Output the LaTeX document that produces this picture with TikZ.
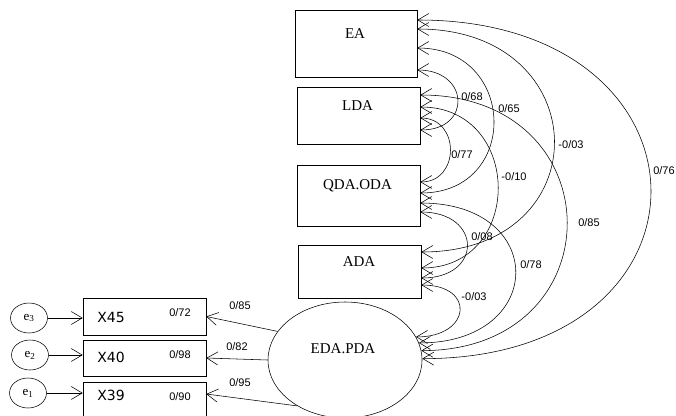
\documentclass[tikz,border=0pt]{standalone}
\usepackage{fontspec}
\setmainfont{Liberation Serif}
\newfontfamily\xfont{DejaVu Sans}
\newfontfamily\numfont{Liberation Sans}
\usetikzlibrary{shapes.geometric,arrows.meta}

\begin{document}
\begin{tikzpicture}[x=1pt,y=-1pt,line width=0.55pt,
  box/.style={draw,rectangle,inner sep=0pt},
  err/.style={draw,ellipse,inner sep=0pt,minimum width=37pt,minimum height=30pt,font=\fontsize{13}{15}\selectfont},
  nm/.style={inner sep=0pt,font=\fontsize{15}{18}\selectfont},
  xn/.style={inner sep=0pt,font=\xfont\fontsize{14}{16}\selectfont},
  num/.style={inner sep=0pt,font=\numfont\fontsize{11}{13}\selectfont},
  arr/.style={-{Straight Barb[length=11pt,width=13pt]}},
  cov/.style={{Straight Barb[length=11pt,width=13pt]}-{Straight Barb[length=11pt,width=13pt]}}]

\useasboundingbox (0,0) rectangle (676,415);

% 方框
\node[box,minimum width=122pt,minimum height=67pt] (ea) at (356,43.5) {};
\node[box,minimum width=123pt,minimum height=57pt] (lda) at (358.5,115.5) {};
\node[box,minimum width=123pt,minimum height=61pt] (qda) at (358.5,195.5) {};
\node[box,minimum width=123pt,minimum height=53pt] (ada) at (359.5,271.5) {};
\node[draw,ellipse,inner sep=0pt,minimum width=154pt,minimum height=116pt] (eda) at (345,360) {};

\node[nm] (eatxt) at (355,34) {EA};
\node[nm] (ldatxt) at (357.5,106) {LDA};
\node[nm] (qdatxt) at (357.5,186) {QDA.ODA};
\node[nm] (adatxt) at (359,262) {ADA};
\node[nm] (edatxt) at (343,349) {EDA.PDA};

% 观测变量
\node[box,minimum width=123pt,minimum height=37pt] (x45) at (144.5,316.5) {};
\node[box,minimum width=123pt,minimum height=36pt] (x40) at (144.5,358) {};
\node[box,minimum width=123pt,minimum height=38pt] (x39) at (144.5,401) {};
\node[xn] (x45txt) at (111,317) {X45};
\node[xn] (x40txt) at (111,357) {X40};
\node[xn] (x39txt) at (111,395) {X39};
\node[num] (r45) at (180,313) {0/72};
\node[num] (r40) at (180,355) {0/98};
\node[num] (r39) at (180,397) {0/90};

% 误差
\node[err] (e3) at (29,318) {e\textsubscript{3}};
\node[err] (e2) at (30,355) {e\textsubscript{2}};
\node[err] (e1) at (28,393) {e\textsubscript{1}};
\draw[arr] (e3.east) -- (e3.east -| x45.west);
\draw[arr] (e2.east) -- (e2.east -| x40.west);
\draw[arr] (e1.east) -- (e1.east -| x39.west);

% 载荷
\draw[arr] (eda.157) -- (x45.east);
\draw[arr] (eda.180) -- (x40.east);
\draw[arr] (eda.224) -- ([yshift=7pt]x39.east);
\node[num] (l45) at (240,306) {0/85};
\node[num] (l40) at (237,347) {0/82};
\node[num] (l39) at (240,383) {0/95};

% 相关
\draw[cov] ([yshift=23.5pt]ea.east) .. controls +(308,0) and +(308,0) .. (eda.1.5);
\draw[cov] ([yshift=14.5pt]ea.east) .. controls +(180,0) and +(180,0) .. ([yshift=19.5pt]ada.east);
\draw[cov] ([yshift=-4.5pt]ea.east) .. controls +(100,0) and +(100,0) .. ([yshift=2.5pt]qda.east);
\draw[cov] ([yshift=-26.5pt]ea.east) .. controls +(52,0) and +(52,0) .. ([yshift=-14.5pt]lda.east);
\draw[cov] ([yshift=20.5pt]lda.east) .. controls +(195,0) and +(195,0) .. (eda.7.5);
\draw[cov] ([yshift=8.5pt]lda.east) .. controls +(103,0) and +(103,0) .. ([yshift=3.5pt]ada.east);
\draw[cov] ([yshift=-2.5pt]lda.east) .. controls +(40,0) and +(40,0) .. ([yshift=13.5pt]qda.east);
\draw[cov] ([yshift=-7.5pt]qda.east) .. controls +(128,0) and +(128,0) .. (eda.13);
\draw[cov] ([yshift=-16.5pt]qda.east) .. controls +(62,0) and +(62,0) .. ([yshift=-6.5pt]ada.east);
\draw[cov] ([yshift=-13.5pt]ada.east) .. controls +(55,0) and +(55,0) .. (eda.18);

% 标记文字
\node[num] (c1) at (664,171) {0/76};
\node[num] (c2) at (571,145) {-0/03};
\node[num] (c3) at (509,109) {0/65};
\node[num] (c4) at (472,97) {0/68};
\node[num] (c5) at (589,223) {0/85};
\node[num] (c6) at (514,177) {-0/10};
\node[num] (c7) at (462,155) {0/77};
\node[num] (c8) at (531,265) {0/78};
\node[num] (c9) at (482,237) {0/08};
\node[num] (c10) at (474,297) {-0/03};

\end{tikzpicture}
\end{document}
